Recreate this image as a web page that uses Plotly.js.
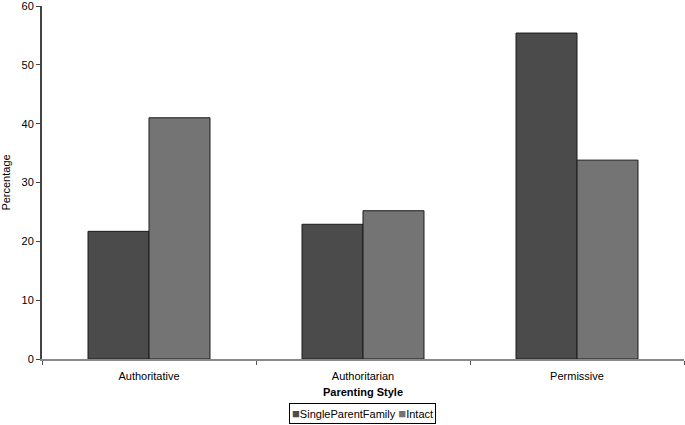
<!DOCTYPE html>
<html><head><meta charset="utf-8">
<script src="https://cdn.plot.ly/plotly-3.0.1.min.js"></script>
<style>body{margin:0}#c{width:685px;height:425px}</style>
</head><body><div id="c"></div>
<script>
const categories = ["Authoritative", "Authoritarian", "Permissive"];
const singleParent = [21.7, 22.9, 55.4];
const intact = [41.0, 25.2, 33.8];
const seriesNames = ["SingleParentFamily", "Intact"];
const seriesColors = ["#4b4b4b", "#747474"];
const yTicks = [0, 10, 20, 30, 40, 50, 60];

const fontFam = "Liberation Sans, Arial, sans-serif";
const data = [
  {type: "bar", name: seriesNames[0], x: categories, y: singleParent,
   marker: {color: seriesColors[0], line: {color: "#1a1a1a", width: 1}}},
  {type: "bar", name: seriesNames[1], x: categories, y: intact,
   marker: {color: seriesColors[1], line: {color: "#1a1a1a", width: 1}}}
];
const legendText = seriesNames.map((n, i) =>
  `<span style="color:${seriesColors[i]};font-size:13px">■</span>${n}`).join(" ");
const layout = {
  width: 685, height: 425,
  margin: {l: 42, r: 1, t: 6, b: 66, autoexpand: false},
  paper_bgcolor: "#fff", plot_bgcolor: "#fff",
  font: {family: fontFam, size: 11, color: "#000"},
  barmode: "group", bargap: 0.43, bargroupgap: 0,
  showlegend: false,
  annotations: [{
    text: legendText, showarrow: false, xref: "paper", yref: "paper",
    x: (362 - 42) / 642, xanchor: "center", y: -(413 - 359) / 353, yanchor: "middle",
    bordercolor: "#000", borderwidth: 1, borderpad: 2,
    font: {size: 11, family: fontFam, color: "#000"}
  }],
  xaxis: {type: "category", showline: true, linecolor: "#888", linewidth: 2,
          ticks: "outside", tickson: "boundaries", ticklen: 4, tickcolor: "#555",
          ticklabelstandoff: 6,
          showgrid: false, zeroline: false, automargin: false,
          title: {text: "<b>Parenting Style</b>", font: {size: 11}, standoff: 7}},
  yaxis: {range: [0, 60], tickvals: yTicks, showline: true, linecolor: "#444", linewidth: 2,
          ticks: "outside", ticklen: 4, tickcolor: "#444", showgrid: false, zeroline: false,
          ticklabeloverflow: "allow", automargin: false,
          title: {text: "Percentage", font: {size: 11}, standoff: 14}}
};
Plotly.newPlot("c", data, layout, {displayModeBar: false});
</script></body></html>
